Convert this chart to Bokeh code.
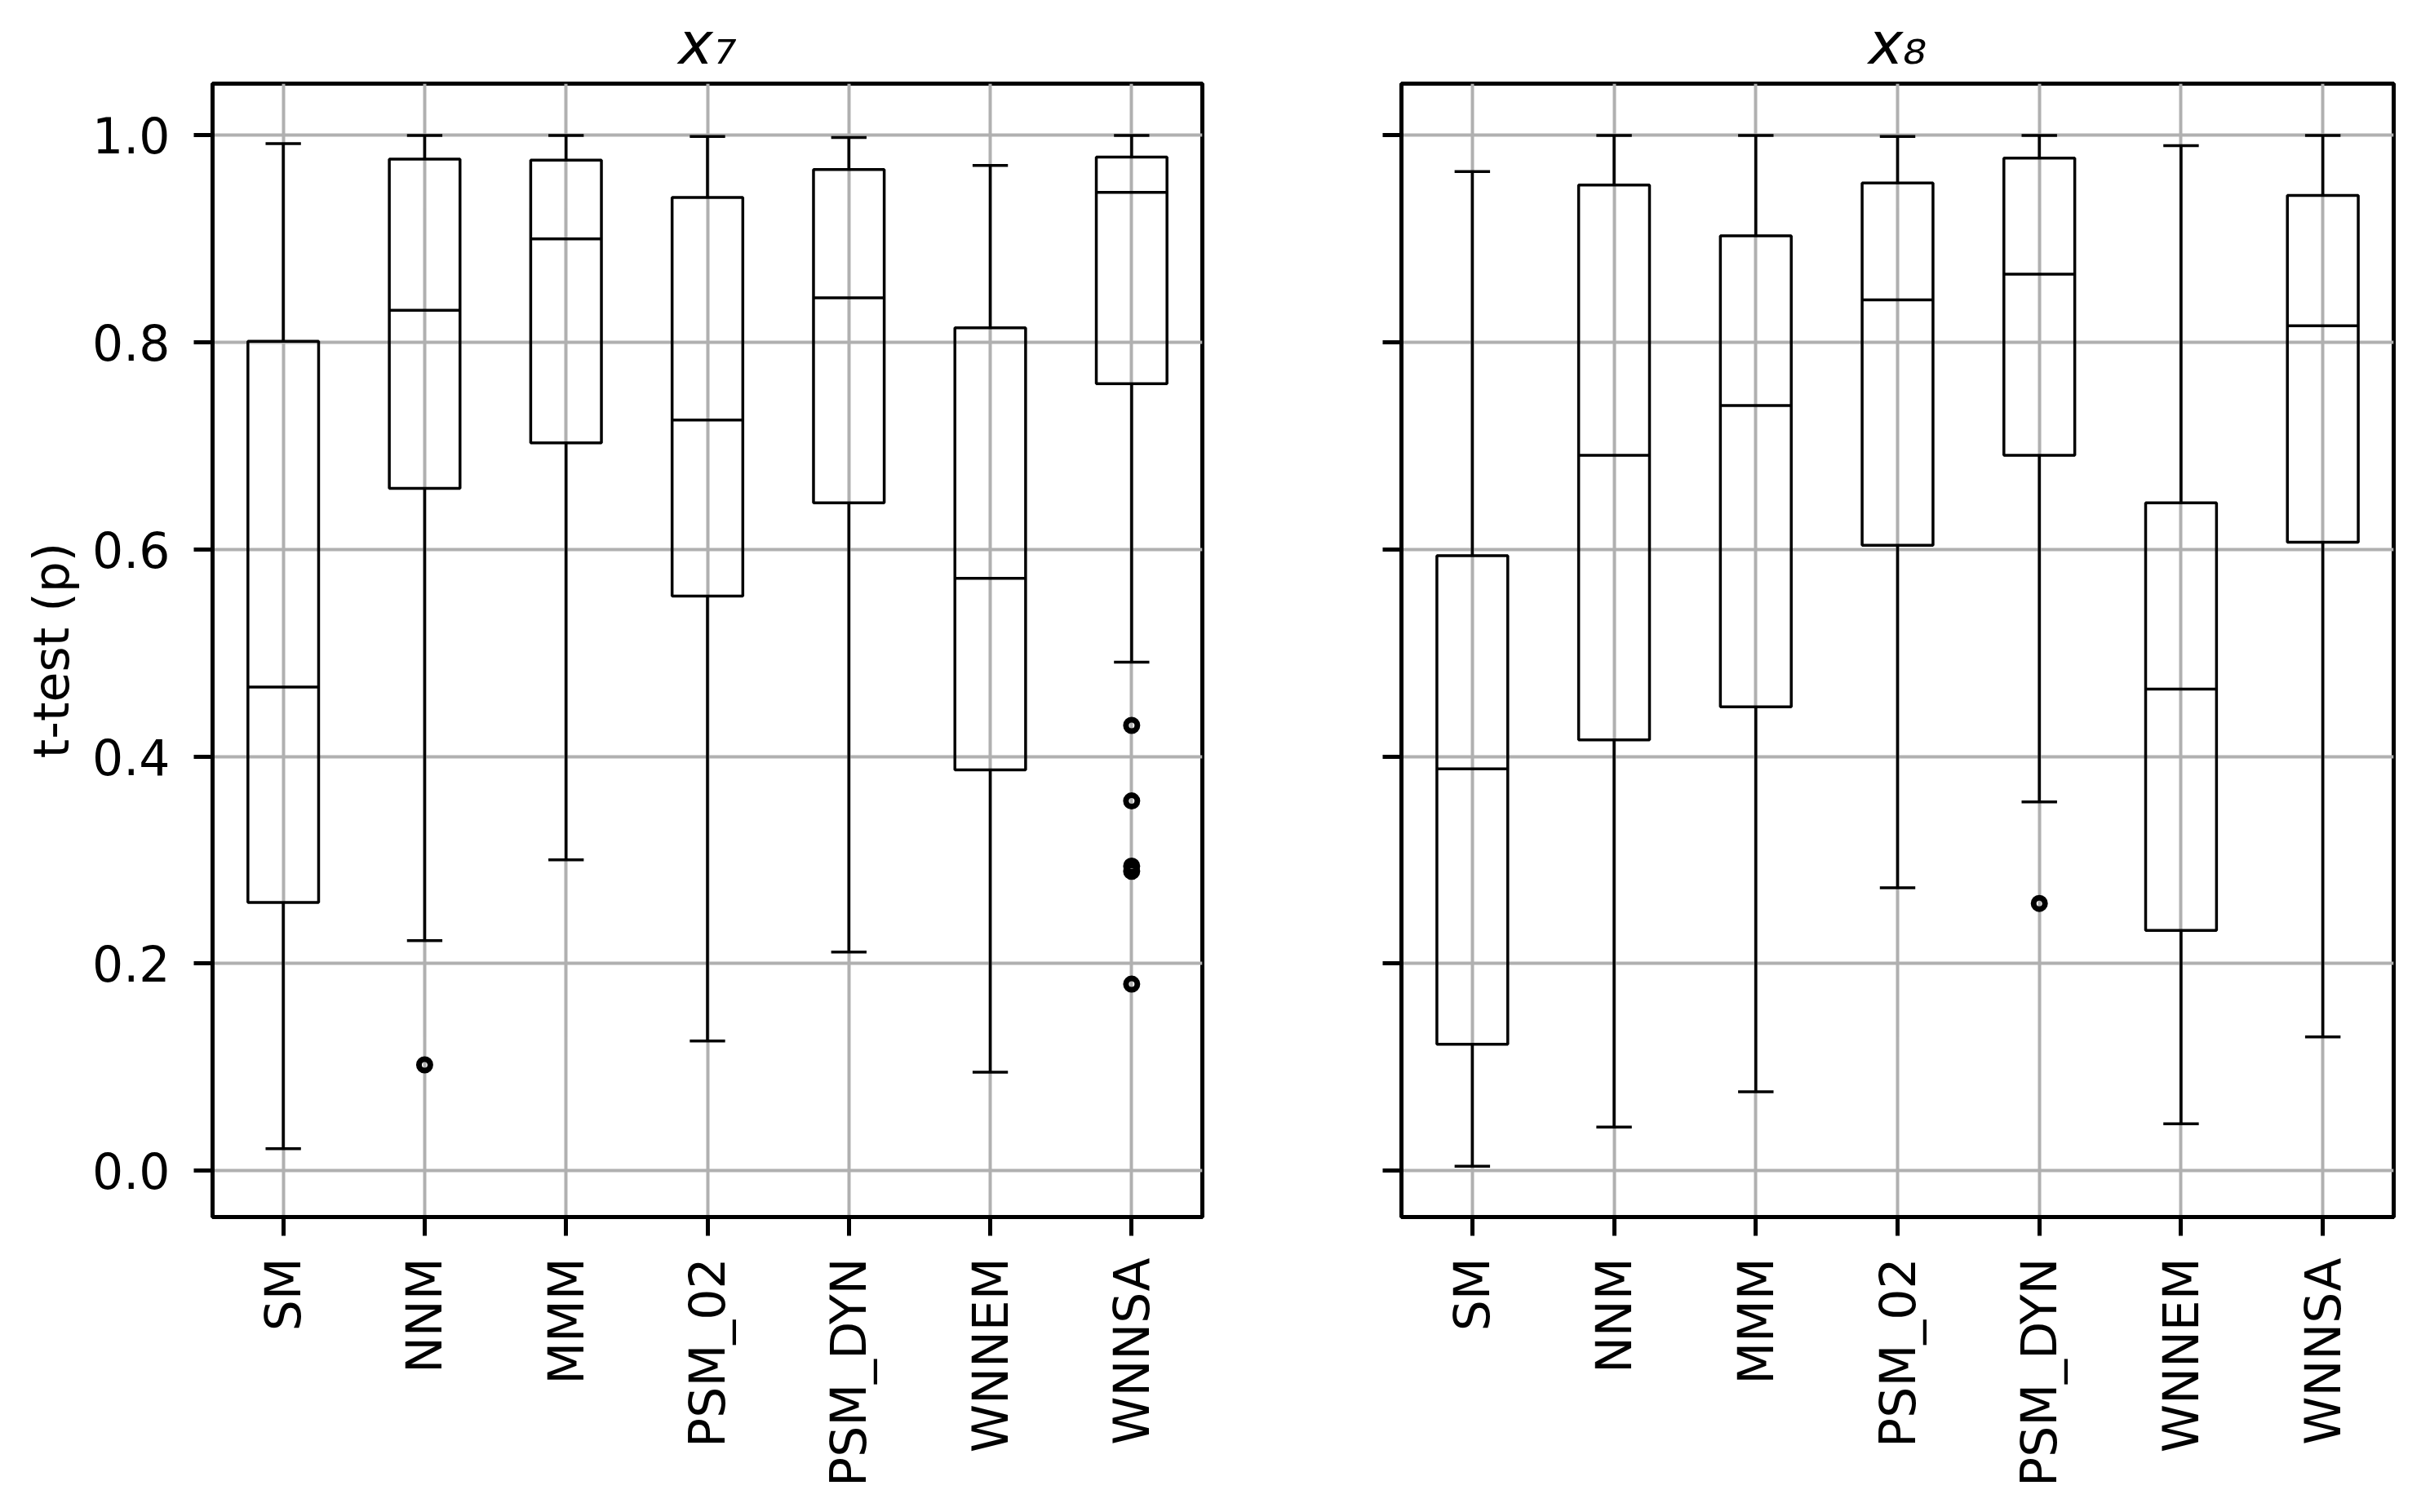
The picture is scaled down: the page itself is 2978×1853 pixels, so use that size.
import numpy as np
from bokeh.plotting import figure
from bokeh.models import (FixedTicker, NumeralTickFormatter, CustomJSTickFormatter,
                          Range1d, ColumnDataSource)
from bokeh.layouts import row
from bokeh.embed import file_html
from bokeh.resources import INLINE

methods = ["SM", "NNM", "MMM", "PSM_02", "PSM_DYN", "WNNEM", "WNNSA"]

# panel x7
x7_low = [0.021, 0.222, 0.300, 0.125, 0.211, 0.095, 0.491]
x7_q1 = [0.259, 0.659, 0.703, 0.555, 0.645, 0.387, 0.760]
x7_med = [0.467, 0.831, 0.900, 0.725, 0.843, 0.572, 0.945]
x7_q3 = [0.801, 0.977, 0.976, 0.940, 0.967, 0.814, 0.979]
x7_high = [0.992, 1.000, 1.000, 0.999, 0.998, 0.971, 1.000]
x7_out_method = ["NNM", "WNNSA", "WNNSA", "WNNSA", "WNNSA", "WNNSA"]
x7_out_value = [0.102, 0.430, 0.357, 0.294, 0.289, 0.180]

# panel x8
x8_low = [0.004, 0.042, 0.076, 0.273, 0.356, 0.045, 0.129]
x8_q1 = [0.122, 0.416, 0.448, 0.604, 0.691, 0.232, 0.607]
x8_med = [0.388, 0.691, 0.739, 0.841, 0.866, 0.465, 0.816]
x8_q3 = [0.594, 0.952, 0.903, 0.954, 0.978, 0.645, 0.942]
x8_high = [0.965, 1.000, 1.000, 0.999, 1.000, 0.990, 1.000]
x8_out_method = ["PSM_DYN"]
x8_out_value = [0.258]

y_ticks = [0.0, 0.2, 0.4, 0.6, 0.8, 1.0]
y_label = "t-test (p)"

FONT = "DejaVu Sans"
BOX_W = 0.5
CAP_W = 0.25
LW = 3.5


def panel(title, low, q1, med, q3, high, om, ov, frame_w, left, show_ylabels):
    pos = list(range(1, len(methods) + 1))
    src = ColumnDataSource(dict(
        x=pos, low=low, q1=q1, med=med, q3=q3, high=high,
        bl=[x - BOX_W / 2 for x in pos], br=[x + BOX_W / 2 for x in pos],
        cl=[x - CAP_W / 2 for x in pos], cr=[x + CAP_W / 2 for x in pos],
    ))
    p = figure(frame_width=frame_w, frame_height=1389,
               x_range=Range1d(0.5, len(methods) + 0.5),
               y_range=Range1d(-0.045, 1.05),
               output_backend="svg", toolbar_location=None,
               min_border_left=left, min_border_right=20,
               min_border_top=100, min_border_bottom=330,
               background_fill_color="white", border_fill_color="white")
    p.title.text = title
    p.title.align = "center"
    p.title.text_font = FONT
    p.title.text_font_size = "72px"
    p.title.text_font_style = "italic"
    p.title.text_color = "black"
    p.title.standoff = 16

    p.outline_line_color = "black"
    p.outline_line_width = 5
    p.outline_line_alpha = 1.0

    xt = FixedTicker(ticks=pos)
    p.xaxis.ticker = xt
    p.xgrid.ticker = xt
    p.xaxis.major_label_overrides = {i + 1: m for i, m in enumerate(methods)}
    p.xaxis.major_label_orientation = np.pi / 2
    yt = FixedTicker(ticks=y_ticks)
    p.yaxis.ticker = yt
    p.ygrid.ticker = yt
    if show_ylabels:
        p.yaxis.formatter = NumeralTickFormatter(format="0.0")
        p.yaxis.axis_label = y_label
        p.yaxis.axis_label_text_font = FONT
        p.yaxis.axis_label_text_font_size = "60px"
        p.yaxis.axis_label_text_font_style = "normal"
        p.yaxis.axis_label_text_color = "black"
        p.yaxis.axis_label_standoff = 12
    else:
        p.yaxis.formatter = CustomJSTickFormatter(code="return ''")

    for ax in (p.xaxis, p.yaxis):
        ax.axis_line_color = "black"
        ax.axis_line_width = 5
        ax.major_tick_line_color = "black"
        ax.major_tick_line_width = 5
        ax.major_tick_out = 23
        ax.major_tick_in = 0
        ax.minor_tick_line_color = None
        ax.major_label_text_font = FONT
        ax.major_label_text_font_size = "60px"
        ax.major_label_text_color = "black"
    p.yaxis.major_label_standoff = 29
    p.xaxis.major_label_standoff = 27

    for g in (p.xgrid, p.ygrid):
        g.grid_line_color = "#b0b0b0"
        g.grid_line_width = 4

    p.vbar(x="x", width=BOX_W, bottom="q1", top="q3", source=src,
           fill_color=None, line_color="black", line_width=LW)
    p.segment("bl", "med", "br", "med", source=src, line_color="black", line_width=LW)
    p.segment("x", "q3", "x", "high", source=src, line_color="black", line_width=LW)
    p.segment("x", "low", "x", "q1", source=src, line_color="black", line_width=LW)
    p.segment("cl", "high", "cr", "high", source=src, line_color="black", line_width=LW)
    p.segment("cl", "low", "cr", "low", source=src, line_color="black", line_width=LW)

    ox = [methods.index(m) + 1 for m in om]
    p.scatter(ox, ov, marker="circle", size=14, fill_color=None,
              line_color="black", line_width=7)
    return p


p1 = panel("x\u2087", x7_low, x7_q1, x7_med, x7_q3, x7_high,
           x7_out_method, x7_out_value, 1213, 260, True)
p2 = panel("x\u2088", x8_low, x8_q1, x8_med, x8_q3, x8_high,
           x8_out_method, x8_out_value, 1216, 224, False)

layout = row(p1, p2)
open("out.html", "w").write(file_html(layout, INLINE))
